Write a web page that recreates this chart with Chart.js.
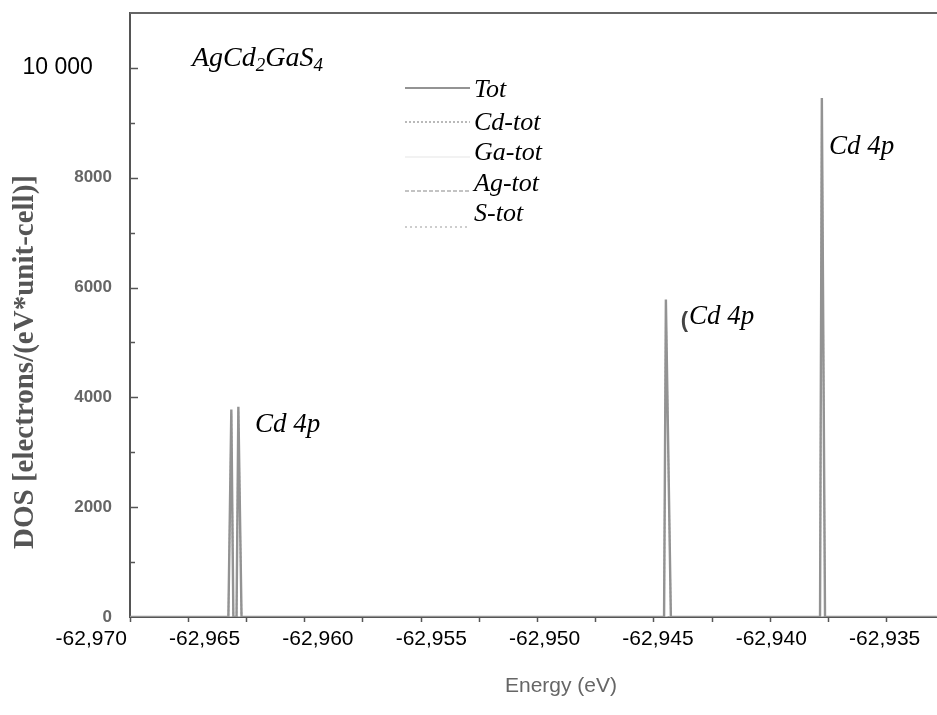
<!DOCTYPE html>
<html><head><meta charset="utf-8">
<script src="https://cdn.jsdelivr.net/npm/chart.js@4.4.1/dist/chart.umd.min.js"></script>
<style>html,body{margin:0;padding:0;background:#fff}#wrap{width:937px;height:715px}</style>
</head><body><div id="wrap"><canvas id="c" width="937" height="715"></canvas></div>
<script>
// ---- data ----
const seriesNames = ['Tot', 'Cd-tot', 'Ga-tot', 'Ag-tot', 'S-tot'];
const energy = [-62968.3, -62963.95, -62963.82, -62963.73, -62963.59, -62963.51, -62963.37,
                -62944.73, -62944.65, -62944.43, -62937.85, -62937.77, -62937.63, -62932.7];
const totDOS = [0, 0, 3780, 0, 0, 3830, 0, 0, 5780, 0, 0, 9450, 0, 0];
const cdDOS  = [0, 0, 3700, 0, 0, 3760, 0, 0, 5700, 0, 0, 9350, 0, 0];
const gaDOS  = [0, 0, 0, 0, 0, 0, 0, 0, 0, 0, 0, 0, 0, 0];
const agDOS  = [0, 0, 0, 0, 0, 0, 0, 0, 0, 0, 0, 0, 0, 0];
const sDOS   = [0, 0, 0, 0, 0, 0, 0, 0, 0, 0, 0, 0, 0, 0];
const xTickLabels = [-62970, -62965, -62960, -62955, -62950, -62945, -62940, -62935];
const yTickLabels = [0, 2000, 4000, 6000, 8000, 10000];
const peakLabels = ['Cd 4p', 'Cd 4p', 'Cd 4p'];
const peakLabelEnergy = [-62962.78, -62943.63, -62937.45];
const peakLabelDOS = [3494, 5459, 8553];
const compoundParts = [['AgCd', false], ['2', true], ['GaS', false], ['4', true]];
const xTitle = 'Energy (eV)';
const yTitle = 'DOS [electrons/(eV*unit-cell)]';

const X_MIN = -62968.29, X_MAX = -62932.69, X_MINOR = 2.5676;
const Y_MAX = 11000;

const styles = [
  {color: '#939393', width: 2.4, dash: []},
  {color: '#a8a8a8', width: 1.6, dash: [2, 2]},
  {color: '#e6e6e6', width: 1.2, dash: []},
  {color: '#b0b0b0', width: 1.5, dash: [4, 2]},
  {color: '#bdbdbd', width: 1.5, dash: [2, 3]}
];
const seriesData = [totDOS, cdDOS, gaDOS, agDOS, sDOS];

const datasets = seriesNames.map((n, i) => ({
  label: n,
  data: energy.map((e, k) => ({x: e, y: seriesData[i][k]})),
  borderColor: styles[i].color,
  borderWidth: styles[i].width,
  borderDash: styles[i].dash,
  pointRadius: 0, tension: 0, fill: false,
  order: i
})).reverse();

const fmt = v => {
  const s = Math.abs(v).toString();
  return (v < 0 ? '-' : '') + s.slice(0, s.length - 3) + ',' + s.slice(-3);
};

const SERIF = '"Liberation Serif", "Times New Roman", serif';
const SANS = '"Liberation Sans", Arial, sans-serif';

const decor = {
  id: 'decor',
  afterDraw(chart) {
    const {ctx, chartArea: a, scales: {x, y}} = chart;
    ctx.save();
    // top frame line
    ctx.strokeStyle = '#666'; ctx.lineWidth = 2;
    ctx.beginPath(); ctx.moveTo(a.left, a.top); ctx.lineTo(a.right, a.top); ctx.stroke();
    // inside y tick marks
    ctx.strokeStyle = '#555'; ctx.lineWidth = 1.5;
    for (let v = 1000; v <= 10000; v += 1000) {
      const py = Math.round(y.getPixelForValue(v)) + 0.5;
      ctx.beginPath(); ctx.moveTo(a.left, py); ctx.lineTo(a.left + (v % 2000 === 0 ? 8 : 5), py); ctx.stroke();
    }
    // axis titles
    ctx.fillStyle = '#555';
    ctx.font = 'bold 29px ' + SERIF;
    ctx.textAlign = 'center'; ctx.textBaseline = 'middle';
    ctx.translate(26, 362); ctx.rotate(-Math.PI / 2);
    ctx.fillText(yTitle, 0, 0);
    ctx.setTransform(1, 0, 0, 1, 0, 0);
    ctx.fillStyle = '#666';
    ctx.font = '21px ' + SANS;
    ctx.fillText(xTitle, 561, 686);
    // compound title
    ctx.fillStyle = '#000'; ctx.textAlign = 'left'; ctx.textBaseline = 'alphabetic';
    let tx = 192;
    compoundParts.forEach(([t, sub]) => {
      ctx.font = (sub ? 'italic 19px ' : 'italic 28px ') + SERIF;
      ctx.fillText(t, tx, sub ? 71 : 66);
      tx += ctx.measureText(t).width;
    });
    // legend
    const lineY = [88, 122, 157, 191, 227];
    const textY = [90, 123, 153, 184, 214];
    seriesNames.forEach((n, i) => {
      ctx.strokeStyle = styles[i].color; ctx.lineWidth = Math.min(styles[i].width, 2);
      ctx.setLineDash(styles[i].dash);
      ctx.beginPath(); ctx.moveTo(405, lineY[i]); ctx.lineTo(470, lineY[i]); ctx.stroke();
      ctx.setLineDash([]);
      ctx.fillStyle = '#000';
      ctx.font = 'italic 26px ' + SERIF;
      ctx.textBaseline = 'middle';
      ctx.fillText(n, 474, textY[i]);
    });
    // peak labels
    peakLabels.forEach((t, i) => {
      const px = x.getPixelForValue(peakLabelEnergy[i]);
      const py = y.getPixelForValue(peakLabelDOS[i]);
      ctx.fillStyle = '#000';
      ctx.font = 'italic 27px ' + SERIF;
      ctx.textBaseline = 'middle'; ctx.textAlign = 'left';
      ctx.fillText(t, px, py);
      if (i === 1) {
        ctx.fillStyle = '#444';
        ctx.font = 'bold 22px ' + SANS;
        ctx.textAlign = 'right';
        ctx.fillText('(', px - 1, py + 4);
      }
    });
    ctx.restore();
  }
};

new Chart(document.getElementById('c'), {
  type: 'line',
  data: {datasets},
  options: {
    responsive: false, animation: false, devicePixelRatio: 1,
    layout: {padding: {top: 13, right: 0, left: 0, bottom: 0}},
    plugins: {legend: {display: false}, tooltip: {enabled: false}},
    scales: {
      x: {
        type: 'linear', min: X_MIN, max: X_MAX,
        afterFit(s) { s.height = 98; s.paddingLeft = 0; s.paddingRight = 0; },
        afterBuildTicks(s) {
          const t = [];
          for (let v = X_MIN; v <= X_MAX + 1e-6; v += X_MINOR) t.push({value: v, lbl: false});
          xTickLabels.forEach(v => t.push({value: v, lbl: true}));
          t.sort((a, b) => a.value - b.value);
          s.ticks = t;
        },
        ticks: {
          autoSkip: false, maxRotation: 0, minRotation: 0, padding: 5, color: '#000',
          font: {family: SANS, size: 21},
          callback: (v, i, t) => (t[i] && t[i].lbl) ? fmt(v) : ''
        },
        grid: {
          drawOnChartArea: false, drawTicks: true, tickLength: 5, tickWidth: 1.5,
          tickColor: c => (c.tick && c.tick.lbl) ? 'rgba(0,0,0,0)' : '#555'
        },
        border: {color: '#555', width: 2}
      },
      y: {
        min: 0, max: Y_MAX,
        afterFit(s) { s.width = 130; s.paddingTop = 0; s.paddingBottom = 0; },
        afterBuildTicks(s) { s.ticks = yTickLabels.map(v => ({value: v})); },
        ticks: {
          autoSkip: false, padding: 18,
          color: c => (c.tick && c.tick.value === 10000) ? '#000' : '#666',
          font: c => (c.tick && c.tick.value === 10000)
            ? {family: SANS, size: 23, weight: 'normal'}
            : {family: SANS, size: 17, weight: 'bold'},
          callback: v => v === 10000 ? '10 000   ' : String(v)
        },
        grid: {drawOnChartArea: false, drawTicks: false},
        border: {color: '#555', width: 2}
      }
    }
  },
  plugins: [decor]
});
</script></body></html>
